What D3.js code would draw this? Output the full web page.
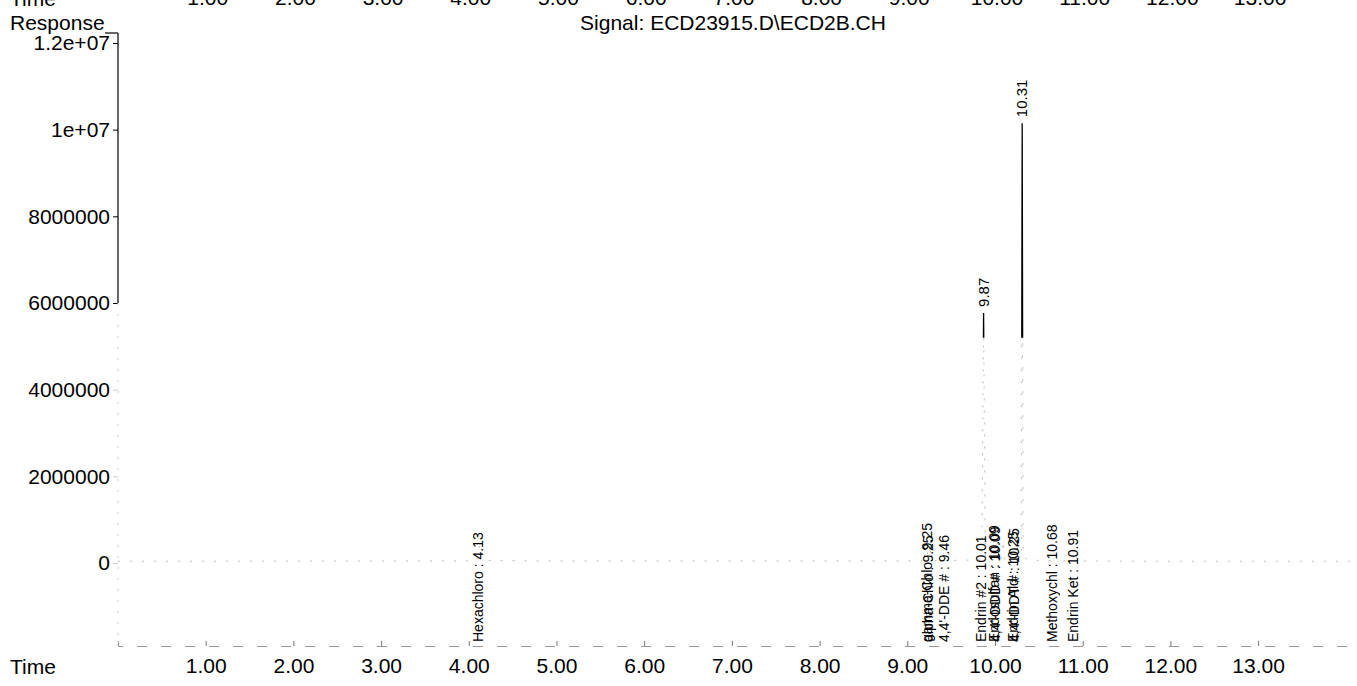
<!DOCTYPE html>
<html><head><meta charset="utf-8">
<script src="https://cdn.jsdelivr.net/npm/d3@7"></script>
<style>
html,body{margin:0;padding:0;background:#fff;}
svg{display:block;font-family:"Liberation Sans",Arial,Helvetica,sans-serif;}
</style></head><body>
<svg id="chart" width="1357" height="686"></svg>
<script>
// ---------------- data ----------------
const titleText = "Signal: ECD23915.D\\ECD2B.CH";
const yAxisTitle = "Response";
const xAxisTitle = "Time";
const yTickValues = [0, 2000000, 4000000, 6000000, 8000000, 10000000, 12000000];
const yTickLabels = ["0", "2000000", "4000000", "6000000", "8000000", "1e+07", "1.2e+07"];
const xTickValues = [1, 2, 3, 4, 5, 6, 7, 8, 9, 10, 11, 12, 13];
const xTickLabels = ["1.00", "2.00", "3.00", "4.00", "5.00", "6.00", "7.00", "8.00", "9.00", "10.00", "11.00", "12.00", "13.00"];
const timeDomain = [0, 14.13];
const respDomain = [-1915000, 12230000];

// signal trace (minutes, response)
const traceTime = [0.00, 3.00, 4.09, 4.13, 4.17, 5.00, 9.21, 9.25, 9.29, 9.43, 9.46, 9.49, 9.85, 9.87, 9.89, 9.98, 10.01, 10.04, 10.07, 10.09, 10.11, 10.23, 10.25, 10.27, 10.30, 10.31, 10.32, 10.38, 10.65, 10.68, 10.71, 10.88, 10.91, 10.94, 12.00, 14.13];
const traceResp = [40000, 45000, 50000, 420000, 60000, 45000, 50000, 380000, 60000, 60000, 300000, 60000, 70000, 5770000, 80000, 70000, 450000, 90000, 90000, 520000, 90000, 100000, 600000, 150000, 200000, 10150000, 150000, 70000, 50000, 350000, 50000, 50000, 280000, 45000, 40000, 40000];

// retention-time labels printed at the apex of the large peaks
const apexRT = [9.87, 10.31];
const apexResp = [5770000, 10150000];
const apexLabels = ["9.87", "10.31"];

// compound labels printed along the time axis (position in minutes)
const cmpNames = ["Hexachloro : 4.13", "gamma-Chlo : 9.25", "alpha-Chlo : 9.25", "4,4'-DDE # : 9.46", "Endrin #2 : 10.01", "Endosulfan : 10.09", "4,4'-DDD # : 10.09", "Endrin Ald : 10.25", "4,4'-DDT # : 10.25", "Methoxychl : 10.68", "Endrin Ket : 10.91"];
const cmpPos = [4.10, 9.22, 9.24, 9.42, 9.84, 9.99, 10.00, 10.21, 10.22, 10.65, 10.89];

// response level below which the scanned trace is faded
const fadeLevel = 5200000;

// ---------------- chart ----------------
const svg = d3.select("#chart");
const x = d3.scaleLinear().domain(timeDomain).range([118, 1357.2]);
const y = d3.scaleLinear().domain(respDomain).range([646, 33]);

// top: cut-off labels of the previous panel
const topG = svg.append("g").attr("font-size", 21).attr("fill", "#000");
topG.append("text").attr("x", 10).attr("y", 6).text(xAxisTitle);
topG.selectAll("text.tt").data(xTickValues).join("text").attr("class", "tt")
  .attr("x", d => x(d) + 2).attr("y", 5).attr("text-anchor", "middle")
  .text((d, i) => xTickLabels[i]);

// titles
svg.append("text").attr("x", 10).attr("y", 30).attr("font-size", 21).text(yAxisTitle);
svg.append("text").attr("x", 733).attr("y", 30).attr("font-size", 21).attr("text-anchor", "middle").text(titleText);

// y axis
const yAxisG = svg.append("g").attr("transform", `translate(${x(0)},0)`)
  .call(d3.axisLeft(y).tickValues(yTickValues).tickFormat((d, i) => yTickLabels[i]).tickSize(5).tickPadding(3));
yAxisG.select(".domain").remove();
yAxisG.selectAll("text").attr("font-size", 21).attr("font-family", "Liberation Sans, Arial, sans-serif").attr("fill", "#000");
yAxisG.selectAll(".tick line").attr("stroke", "#000");
yAxisG.selectAll(".tick").filter(d => d < 6000000).select("line").attr("stroke", "#ccc");
// axis line: crisp upper part, faded lower part
svg.append("line").attr("x1", x(0)).attr("x2", x(0)).attr("y1", y(respDomain[1])).attr("y2", y(6000000))
  .attr("stroke", "#000").attr("stroke-width", 1.2);
svg.append("line").attr("x1", x(0)).attr("x2", x(0)).attr("y1", y(6000000)).attr("y2", y(respDomain[0]))
  .attr("stroke", "#ccc").attr("stroke-dasharray", "2,9");
svg.append("line").attr("x1", x(0) - 13).attr("x2", x(0)).attr("y1", y(respDomain[1])).attr("y2", y(respDomain[1]))
  .attr("stroke", "#000").attr("stroke-width", 1.2);

// x axis (bottom)
const xAxisG = svg.append("g").attr("transform", `translate(0,${y(respDomain[0])})`)
  .call(d3.axisBottom(x).tickValues(xTickValues).tickFormat((d, i) => xTickLabels[i]).tickSize(-5).tickPadding(12));
xAxisG.select(".domain").attr("stroke", "#999").attr("stroke-dasharray", "10,14");
xAxisG.selectAll(".tick line").attr("stroke", "#777");
xAxisG.selectAll("text").attr("font-size", 21).attr("font-family", "Liberation Sans, Arial, sans-serif").attr("fill", "#000");
svg.append("text").attr("x", 10).attr("y", 674).attr("font-size", 21).text(xAxisTitle);

// signal trace
const traceData = traceTime.map((t, i) => ({t, r: traceResp[i]}));
const line = d3.line().x(d => x(d.t)).y(d => y(d.r));
const defs = svg.append("defs");
defs.append("clipPath").attr("id", "clipTop").append("rect")
  .attr("x", 0).attr("y", 0).attr("width", 1357).attr("height", y(fadeLevel));
defs.append("clipPath").attr("id", "clipBottom").append("rect")
  .attr("x", 0).attr("y", y(fadeLevel)).attr("width", 1357).attr("height", 686 - y(fadeLevel));
svg.append("path").datum(traceData).attr("d", line).attr("fill", "none")
  .attr("stroke", "#bbb").attr("stroke-width", 1).attr("stroke-dasharray", "2,10")
  .attr("clip-path", "url(#clipBottom)");
svg.append("path").datum(traceData).attr("d", line).attr("fill", "none")
  .attr("stroke", "#000").attr("stroke-width", 1.3)
  .attr("clip-path", "url(#clipTop)");

// apex labels
svg.selectAll("text.apex").data(apexRT).join("text").attr("class", "apex")
  .attr("font-size", 15)
  .attr("transform", (d, i) => `translate(${x(d) + 5},${y(apexResp[i]) - 6}) rotate(-90)`)
  .text((d, i) => apexLabels[i]);

// compound labels
svg.selectAll("text.cmp").data(cmpPos).join("text").attr("class", "cmp")
  .attr("font-size", 14)
  .attr("transform", d => `translate(${x(d) + 5},${y(respDomain[0]) - 4}) rotate(-90)`)
  .text((d, i) => cmpNames[i]);
</script>
</body></html>
